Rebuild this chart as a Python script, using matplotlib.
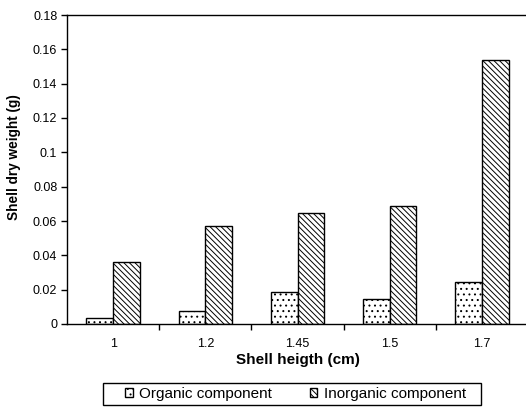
import numpy as np
import matplotlib
matplotlib.use("Agg")
from matplotlib import pyplot as plt
from matplotlib.patches import Rectangle

# shell heights and the dry weight of each shell fraction
heights = ["1", "1.2", "1.45", "1.5", "1.7"]
organic = [0.0037, 0.0074, 0.0188, 0.0146, 0.0246]
inorganic = [0.0363, 0.0570, 0.0645, 0.0689, 0.1536]

plt.rcParams['font.family'] = ['Liberation Sans', 'DejaVu Sans']
plt.rcParams['hatch.linewidth'] = 0.7

fig = plt.figure(figsize=(5.26, 4.07), dpi=100)
ax = fig.add_axes([67/526, 83/407, 461/526, 309/407])

x = np.arange(len(heights))
w = 0.29
ax.bar(x - w/2, organic, w, facecolor='white', edgecolor='black', linewidth=1.0,
       hatch='...', label='Organic component')
ax.bar(x + w/2, inorganic, w, facecolor='white', edgecolor='black', linewidth=1.0,
       hatch='\\\\\\\\\\\\', label='Inorganic component')

ax.set_xlim(-0.5, len(heights) - 0.5)
ax.set_ylim(0, 0.18)
ax.set_yticks(np.arange(0, 0.181, 0.02))
ax.set_yticklabels(['0', '0.02', '0.04', '0.06', '0.08', '0.1', '0.12', '0.14', '0.16', '0.18'])
ax.set_xticks(x)
ax.set_xticklabels(heights)
ax.tick_params(axis='x', length=0, labelsize=9, pad=10)
ax.set_xticks(np.arange(0.5, len(heights) - 0.5), minor=True)
ax.tick_params(axis='x', which='minor', length=4, width=1)
ax.tick_params(axis='y', length=4, width=1, labelsize=9, pad=3)
for s in ax.spines.values():
    s.set_linewidth(1.0)

ax.set_xlabel('Shell heigth (cm)', fontsize=11, fontweight='bold', labelpad=2)
ax.set_ylabel('Shell dry weight (g)', fontsize=9.8, fontweight='bold')
ax.yaxis.set_label_coords(-0.10, 0.54)

# legend without its own frame, boxed separately
leg = fig.legend(loc='center left', bbox_to_anchor=(125/526, 0.032), ncol=2, fontsize=11,
                 frameon=False, handlelength=0.5, handleheight=0.5,
                 handletextpad=0.4, columnspacing=2.5, borderpad=0, borderaxespad=0)
fig.patches.append(Rectangle((103/526, 2/407), 378/526, 22/407, transform=fig.transFigure,
                             fill=False, edgecolor='black', linewidth=1.0))

fig.savefig('out.png', dpi=100)
